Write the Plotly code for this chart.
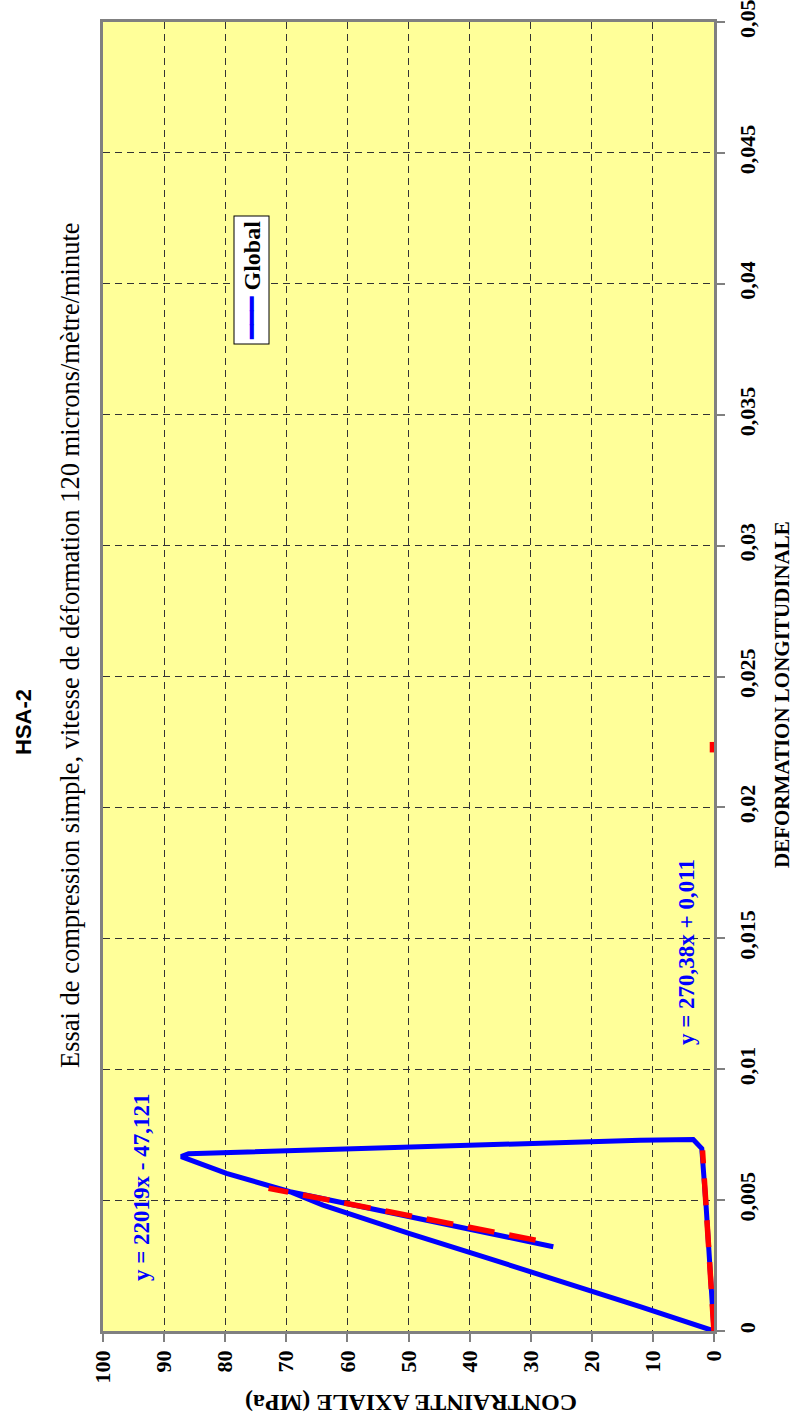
import plotly.graph_objects as go

# Courbe "Global" : contrainte (MPa) / déformation
stress = [26.3, 49.8, 69.4, 79.8, 85.5, 87.2, 86.0, 74.3, 49.8, 23.6, 12.1, 3.4, 2.0, 1.3, 0.0,
          12.1, 23.6, 37.8, 49.8, 58.0, 64.0, 69.4]
strain = [0.00322, 0.00436, 0.00532, 0.00602, 0.00648, 0.00666, 0.00677, 0.00685, 0.00704,
          0.00723, 0.00729, 0.00731, 0.00697, 0.0048, 0.0, 0.00093, 0.00180, 0.00284,
          0.00372, 0.00436, 0.00481, 0.00532]

# courbes de tendance (rouge, tirets)
fit1_stress = [29.2, 72.9]
fit1_strain = [0.00347, 0.00545]
fit2_stress = [0.011, 1.88]
fit2_strain = [0.0, 0.0069]
fit3_stress = [0.25, 0.25]
fit3_strain = [0.0221, 0.0225]

stress_ticks = [0, 10, 20, 30, 40, 50, 60, 70, 80, 90, 100]
strain_ticks = [0, 0.005, 0.01, 0.015, 0.02, 0.025, 0.03, 0.035, 0.04, 0.045, 0.05]
strain_labels = ["0", "0,005", "0,01", "0,015", "0,02", "0,025", "0,03", "0,035", "0,04", "0,045", "0,05"]

W, H = 801, 1425
# zone de tracé (pixels) : x 103..714, y 22..1331
L, R, T, B = 103, W - 714, 22, H - 1331
SERIF = "Liberation Serif"


def paper(px, py):
    # pixel -> coordonnées "paper"
    return (px - L) / (W - L - R), (H - B - py) / (H - T - B)


fig = go.Figure()
fig.add_trace(go.Scatter(x=stress, y=strain, mode="lines", name="Global",
                         line=dict(color="#0000FF", width=5), showlegend=False))
for xs, ys in [(fit1_stress, fit1_strain), (fit2_stress, fit2_strain), (fit3_stress, fit3_strain)]:
    fig.add_trace(go.Scatter(x=xs, y=ys, mode="lines", showlegend=False,
                             line=dict(color="#FF0000", width=5.5, dash="27px,15px")))

axis_common = dict(
    showline=True, linecolor="#808080", linewidth=2.5, mirror=True,
    ticks="outside", ticklen=8, tickcolor="#808080", tickwidth=1.5,
    showgrid=True, gridcolor="#333333", gridwidth=1, griddash="7px,5px",
    zeroline=False, tickangle=-90, automargin=False, ticklabeloverflow="allow",
    tickfont=dict(family=SERIF, size=22, color="black", weight="bold"),
)
fig.update_xaxes(range=[100, 0], tickvals=stress_ticks, ticklabelstandoff=0, **axis_common)
fig.update_yaxes(range=[0, 0.05], tickvals=strain_ticks, ticktext=strain_labels,
                 side="right", ticklabelstandoff=4, **axis_common)

annotations = []


def add_text(px, py, text, size, angle, family=SERIF, color="black", **kw):
    x, y = paper(px, py)
    annotations.append(dict(x=x, y=y, xref="paper", yref="paper", text=text, showarrow=False,
                            textangle=angle, xanchor="center", yanchor="middle",
                            font=dict(family=family, size=size, color=color), **kw))


add_text(24, 722, "<b>HSA-2</b>", 22, -90, family="Liberation Sans")
add_text(70, 645, "Essai de compression simple, vitesse de déformation 120 microns/mètre/minute", 26.5, -90)
add_text(782, 695, "<b>DEFORMATION LONGITUDINALE</b>", 21, -90)
add_text(411, 1403, "<b>CONTRAINTE AXIALE (MPa)</b>", 24, 180)
add_text(141, 1187, "<b>y = 22019x - 47,121</b>", 23, -90, color="#0000FF")
add_text(686, 952, "<b>y = 270,38x + 0,011</b>", 23, -90, color="#0000FF")
add_text(251.5, 280, "<span style='color:#0000FF'>━━━</span> <b>Global</b>", 24, -90,
         bgcolor="white", bordercolor="black", borderwidth=1, borderpad=4)

fig.update_layout(
    width=W, height=H,
    margin=dict(l=L, r=R, t=T, b=B),
    paper_bgcolor="white", plot_bgcolor="#FFFF99",
    annotations=annotations,
)

# sans la marge par défaut du <body>, la figure occupe toute la fenêtre
fig.write_html("out.html", config={"displayModeBar": False},
               post_script="document.body.style.margin = '0';")
